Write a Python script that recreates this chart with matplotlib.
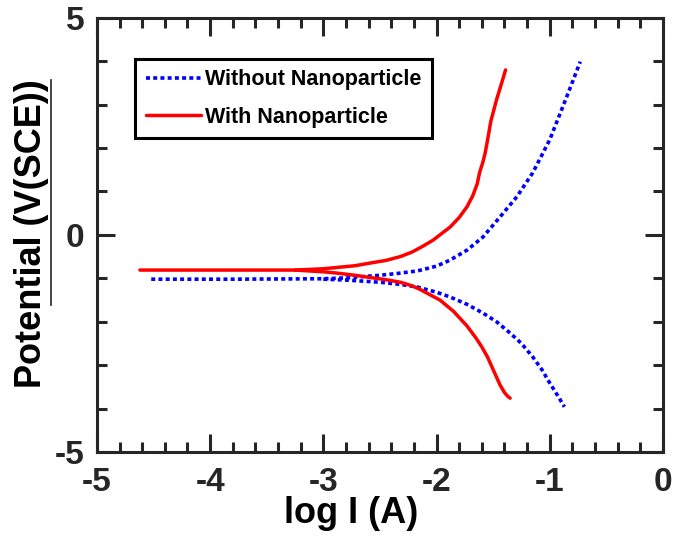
import matplotlib
matplotlib.use("Agg")
import matplotlib.pyplot as plt
from matplotlib.lines import Line2D
from matplotlib.ticker import MultipleLocator

plt.rcParams['font.family'] = ['Liberation Sans', 'DejaVu Sans']
plt.rcParams['font.weight'] = 'bold'
plt.rcParams['axes.unicode_minus'] = False

# ---- data: log I (A) vs Potential (V(SCE)) ----
# Without Nanoparticle
wo_flat_x = [-4.52, -4.2, -3.8, -3.4, -3.0]
wo_flat_y = [-1.02, -1.02, -1.02, -1.015, -1.01]
wo_anod_x = [-3.0, -2.8, -2.5, -2.32, -2.17, -2.0, -1.88, -1.73, -1.59, -1.44, -1.29, -1.15, -1.0, -0.85, -0.73]
wo_anod_y = [-1.01, -0.99, -0.93, -0.88, -0.83, -0.72, -0.58, -0.35, -0.05, 0.41, 0.88, 1.43, 2.19, 3.18, 3.99]
wo_cath_x = [-3.0, -2.8, -2.5, -2.32, -2.17, -2.0, -1.88, -1.73, -1.59, -1.47, -1.35, -1.25, -1.15, -1.07, -1.0, -0.93, -0.87]
wo_cath_y = [-1.02, -1.04, -1.09, -1.14, -1.20, -1.32, -1.43, -1.60, -1.80, -2.00, -2.26, -2.50, -2.81, -3.10, -3.41, -3.70, -3.96]

# With Nanoparticle
w_flat_x = [-4.62, -4.2, -3.8, -3.5, -3.25]
w_flat_y = [-0.81, -0.81, -0.81, -0.81, -0.81]
w_anod_x = [-3.25, -3.0, -2.88, -2.72, -2.59, -2.45, -2.32, -2.22, -2.12, -2.03, -1.88, -1.80, -1.73, -1.68, -1.64, -1.62, -1.59, -1.57, -1.555, -1.54, -1.52, -1.47, -1.43, -1.39]
w_anod_y = [-0.81, -0.78, -0.75, -0.71, -0.65, -0.59, -0.50, -0.40, -0.26, -0.12, 0.18, 0.40, 0.65, 0.90, 1.18, 1.43, 1.68, 1.89, 2.10, 2.32, 2.62, 3.11, 3.45, 3.80]
w_cath_x = [-3.25, -3.0, -2.88, -2.72, -2.59, -2.45, -2.32, -2.22, -2.15, -1.97, -1.85, -1.73, -1.65, -1.60, -1.55, -1.50, -1.44, -1.40, -1.37, -1.35]
w_cath_y = [-0.81, -0.85, -0.88, -0.93, -0.98, -1.03, -1.09, -1.17, -1.25, -1.50, -1.76, -2.10, -2.38, -2.58, -2.81, -3.10, -3.45, -3.63, -3.72, -3.76]

labels = ["Without Nanoparticle", "With Nanoparticle"]
xticks = [-5, -4, -3, -2, -1, 0]
yticks = [-5, 0, 5]

fig = plt.figure(figsize=(6.73, 5.40), dpi=100)
ax = fig.add_axes([0.144, 0.163, 0.841, 0.804])

blue_kw = dict(color='#0000ff', lw=2.6, linestyle=(0, (1.1, 0.9)), dash_capstyle='butt')
red_kw = dict(color='#ff0000', lw=2.5, solid_capstyle='round', solid_joinstyle='round')

ax.plot(wo_flat_x + wo_anod_x[1:], wo_flat_y + wo_anod_y[1:], **blue_kw)
ax.plot(wo_cath_x, wo_cath_y, **blue_kw)
ax.plot(w_flat_x + w_anod_x[1:], w_flat_y + w_anod_y[1:], **red_kw)
ax.plot(w_cath_x, w_cath_y, **red_kw)

ax.set_xlim(-5, 0)
ax.set_ylim(-5, 5)
ax.set_xticks(xticks)
ax.set_yticks(yticks)
ax.xaxis.set_minor_locator(MultipleLocator(0.2))
ax.yaxis.set_minor_locator(MultipleLocator(1))
ax.tick_params(which='both', direction='in', top=True, right=True,
               color='#262626', width=2.2)
ax.tick_params(which='major', length=13, labelsize=24)
ax.tick_params(axis='x', which='major', pad=11)
ax.tick_params(axis='y', which='major', pad=9)
ax.tick_params(which='minor', length=7)
for lab in ax.get_xticklabels() + ax.get_yticklabels():
    lab.set_fontweight('bold')
    lab.set_color('#262626')
for s in ax.spines.values():
    s.set_linewidth(2.2)
    s.set_color('#262626')

ax.set_xlabel('log I (A)', fontsize=26, fontweight='bold')
ax.set_ylabel('Potential (V(SCE))', fontsize=26, fontweight='bold')
ax.xaxis.set_label_coords(0.449, -0.101)
ax.yaxis.set_label_coords(-0.085, 0.503)

handles = [Line2D([], [], **blue_kw), Line2D([], [], **red_kw)]
leg = ax.legend(handles, labels, loc='upper left', bbox_to_anchor=(0.067, 0.906),
                borderaxespad=0, fancybox=False, edgecolor='black',
                prop=dict(family='Liberation Sans', weight='bold', size=15.5),
                handlelength=2.56, handletextpad=0.2, labelspacing=0.75,
                borderpad=0.5, framealpha=1)
leg.get_frame().set_linewidth(2.2)

# underline beside y label
fig.add_artist(Line2D([50.5 / 673, 50.5 / 673], [1 - 80 / 540, 1 - 305 / 540],
                      transform=fig.transFigure, color='#262626', lw=1.2))

fig.savefig('out.png', dpi=100)
